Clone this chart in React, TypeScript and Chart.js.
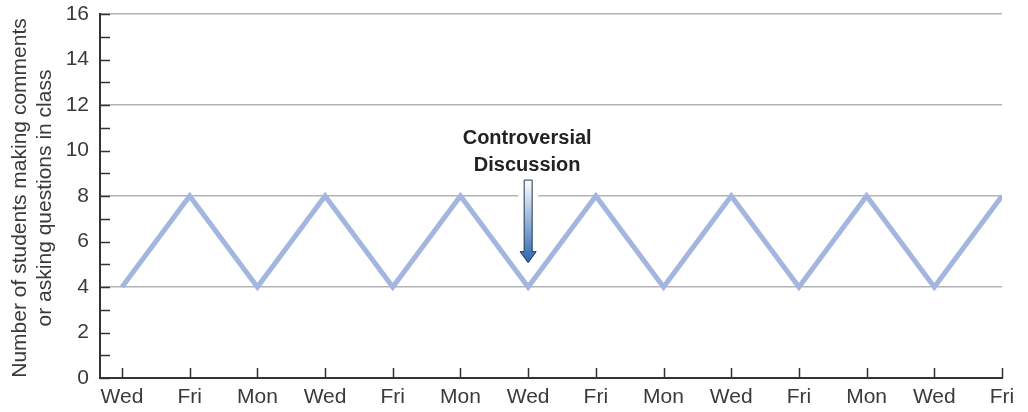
import React, { useEffect, useRef } from "react";
import { Chart, registerables } from "chart.js";

Chart.register(...registerables);

const days: string[] = ["Wed", "Fri", "Mon", "Wed", "Fri", "Mon", "Wed", "Fri", "Mon", "Wed", "Fri", "Mon", "Wed", "Fri"];
const students: number[] = [4, 8, 4, 8, 4, 8, 4, 8, 4, 8, 4, 8, 4, 8];
const yTickValues: number[] = [0, 2, 4, 6, 8, 10, 12, 14, 16];
const yTitle: string[] = ["Number of students making comments", "or asking questions in class"];
const annotationLines: string[] = ["Controversial", "Discussion"];
const annotationIndex = 6;
const arrowTopValue = 8.7;
const arrowTipValue = 5.07;

const FONT = "'Liberation Sans', Arial, Helvetica, sans-serif";
const TEXT = "#3a3a3a";

const customPlugin = {
  id: "custom",
  afterDraw(chart: any) {
    const ctx = chart.ctx;
    const x = chart.scales.x;
    const y = chart.scales.y;
    const area = chart.chartArea;
    ctx.save();
    ctx.strokeStyle = "#333";
    ctx.lineWidth = 1.5;
    for (let v = 0; v <= 16; v++) {
      const py = Math.round(y.getPixelForValue(v)) + 0.5;
      ctx.beginPath();
      ctx.moveTo(area.left, py);
      ctx.lineTo(area.left + 10, py);
      ctx.stroke();
    }
    for (let i = 0; i < days.length; i++) {
      const px = Math.round(x.getPixelForValue(i)) + 0.5;
      ctx.beginPath();
      ctx.moveTo(px, area.bottom);
      ctx.lineTo(px, area.bottom - 10);
      ctx.stroke();
    }
    ctx.fillStyle = TEXT;
    ctx.font = `21px ${FONT}`;
    ctx.textAlign = "center";
    ctx.textBaseline = "middle";
    const cy = (area.top + area.bottom) / 2 + 2;
    ctx.save();
    ctx.translate(20, cy);
    ctx.rotate(-Math.PI / 2);
    ctx.fillText(yTitle[0], 0, 0);
    ctx.restore();
    ctx.save();
    ctx.translate(45, cy);
    ctx.rotate(-Math.PI / 2);
    ctx.fillText(yTitle[1], 0, 0);
    ctx.restore();

    const ax = x.getPixelForValue(annotationIndex);
    const top = y.getPixelForValue(arrowTopValue);
    const tip = y.getPixelForValue(arrowTipValue);
    ctx.fillStyle = "#ffffff";
    const gy = y.getPixelForValue(8);
    ctx.fillRect(ax - 10, gy - 2, 20, 4);
    ctx.fillStyle = "#222";
    ctx.font = `bold 20px ${FONT}`;
    ctx.textAlign = "center";
    ctx.fillText(annotationLines[0], ax - 1, top - 42);
    ctx.fillText(annotationLines[1], ax - 1, top - 15);

    const headH = 11;
    const shaftW = 8;
    const headW = 16;
    const headTop = tip - headH;
    const grad = ctx.createLinearGradient(0, top, 0, tip);
    grad.addColorStop(0, "#ffffff");
    grad.addColorStop(1, "#2a66b0");
    ctx.beginPath();
    ctx.moveTo(ax - shaftW / 2, top);
    ctx.lineTo(ax + shaftW / 2, top);
    ctx.lineTo(ax + shaftW / 2, headTop);
    ctx.lineTo(ax + headW / 2, headTop);
    ctx.lineTo(ax, tip);
    ctx.lineTo(ax - headW / 2, headTop);
    ctx.lineTo(ax - shaftW / 2, headTop);
    ctx.closePath();
    ctx.fillStyle = grad;
    ctx.fill();
    ctx.strokeStyle = "#1f3550";
    ctx.lineWidth = 1;
    ctx.stroke();
    ctx.restore();
  },
};

export default function App() {
  const ref = useRef<HTMLCanvasElement | null>(null);
  useEffect(() => {
    if (!ref.current) return;
    const chart = new Chart(ref.current, {
      type: "line",
      data: {
        datasets: [
          {
            data: students.map((v, i) => ({ x: i, y: v })),
            borderColor: "#a2b6e0",
            borderWidth: 5,
            pointRadius: 0,
            tension: 0,
            borderJoinStyle: "miter",
            fill: false,
          },
        ],
      },
      options: {
        animation: false,
        responsive: false,
        maintainAspectRatio: false,
        layout: { padding: { top: 14, right: 26, left: 0, bottom: 0 } },
        plugins: { legend: { display: false }, tooltip: { enabled: false } },
        scales: {
          x: {
            type: "linear",
            min: -0.325,
            max: 13,
            afterBuildTicks: (scale: any) => {
              scale.ticks = days.map((_, i) => ({ value: i }));
            },
            afterFit: (scale: any) => {
              scale.height = 34;
              scale.paddingLeft = 0;
              scale.paddingRight = 0;
            },
            grid: { display: false, drawTicks: false },
            border: { display: true, color: "#333", width: 2 },
            ticks: {
              autoSkip: false,
              maxRotation: 0,
              padding: 7,
              color: TEXT,
              font: { family: FONT, size: 21 },
              callback: (v: any) => days[Math.round(Number(v))] ?? "",
            },
          },
          y: {
            min: 0,
            max: 16,
            afterBuildTicks: (scale: any) => {
              scale.ticks = yTickValues.map((v) => ({ value: v }));
            },
            afterFit: (scale: any) => {
              scale.width = 100;
              scale.paddingTop = 0;
              scale.paddingBottom = 0;
            },
            grid: {
              drawTicks: false,
              color: (c: any) => (c.tick && c.tick.value % 4 === 0 && c.tick.value !== 0 ? "#b3b3b3" : "rgba(0,0,0,0)"),
              lineWidth: 1.5,
            },
            border: { display: true, color: "#333", width: 2 },
            ticks: {
              padding: 11,
              color: TEXT,
              font: { family: FONT, size: 21 },
            },
          },
        },
      },
      plugins: [customPlugin],
    } as any);
    return () => chart.destroy();
  }, []);
  return (
    <div style={{ position: "fixed", left: 0, top: 0, width: 1028, height: 412, background: "#fff" }}>
      <canvas ref={ref} width={1028} height={412} style={{ width: 1028, height: 412, display: "block" }} />
    </div>
  );
}
